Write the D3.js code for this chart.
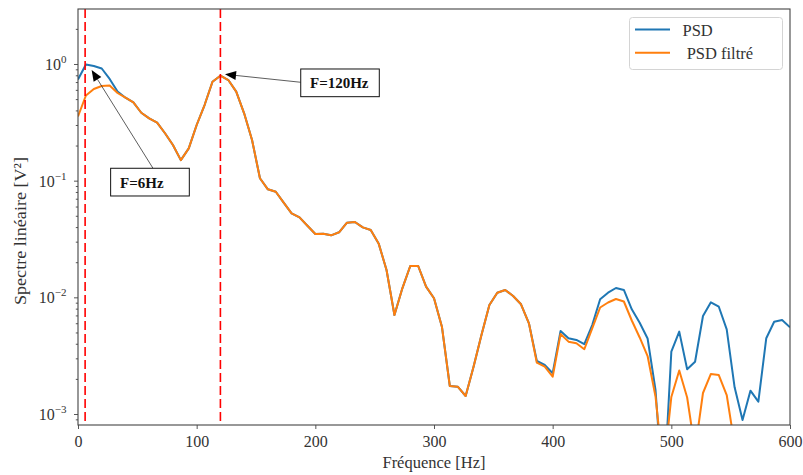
<!DOCTYPE html>
<html><head><meta charset="utf-8">
<script src="https://cdn.jsdelivr.net/npm/d3@7/dist/d3.min.js"></script>
<style>
body{margin:0;background:#fff}
text{font-family:"Liberation Serif","Times New Roman",serif;fill:#333}
</style>
</head><body>
<svg id="c" width="803" height="475"></svg>
<script>
// ---------- data ----------
const freqs = [0, 6.67, 13.33, 20, 26.67, 33.33, 40, 46.67, 53.33, 60, 66.67, 73.33, 80, 86.67, 93.33, 100,
  106.67, 113.33, 120, 126.67, 133.33, 140, 146.67, 153.33, 160, 166.67, 173.33, 180, 186.67, 193.33, 200,
  206.67, 213.33, 220, 226.67, 233.33, 240, 246.67, 253.33, 260, 266.67, 273.33, 280, 286.67, 293.33, 300,
  306.67, 313.33, 320, 326.67, 333.33, 340, 346.67, 353.33, 360, 366.67, 373.33, 380, 386.67, 393.33, 400,
  406.67, 413.33, 420, 426.67, 433.33, 440, 446.67, 453.33, 460, 466.67, 473.33, 480, 486.67, 493.33, 500,
  506.67, 513.33, 520, 526.67, 533.33, 540, 546.67, 553.33, 560, 566.67, 573.33, 580, 586.67, 593.33, 600];

const psd = [0.736, 0.990, 0.961, 0.915, 0.744, 0.581, 0.514, 0.469, 0.382, 0.342,
  0.314, 0.255, 0.202, 0.150, 0.189, 0.300, 0.445, 0.705, 0.794, 0.729,
  0.579, 0.378, 0.223, 0.1048, 0.0843, 0.0804, 0.0648, 0.0525, 0.0485, 0.0411,
  0.0349, 0.0351, 0.0340, 0.0361, 0.0436, 0.0442, 0.0398, 0.0378, 0.0290, 0.01716,
  0.00706, 0.01195, 0.01856, 0.01856, 0.01234, 0.00981, 0.00560, 0.001738, 0.001714, 0.001427,
  0.002544, 0.00475, 0.00860, 0.01096, 0.01156, 0.01027, 0.00872, 0.00599, 0.002847, 0.00263,
  0.002234, 0.00514, 0.00446, 0.00431, 0.00398, 0.00579, 0.00962, 0.01096, 0.01202, 0.01156,
  0.00790, 0.00606, 0.00444, 0.001606, 0.000183, 0.00342, 0.00508, 0.002416, 0.002807, 0.00692,
  0.00907, 0.00831, 0.00532, 0.001694, 0.000888, 0.001584, 0.001275, 0.00446, 0.00618, 0.00639,
  0.00554];

const psdFiltre = [0.355, 0.537, 0.611, 0.648, 0.654, 0.564, 0.514, 0.469, 0.382, 0.342,
  0.314, 0.255, 0.202, 0.150, 0.189, 0.300, 0.445, 0.705, 0.794, 0.729,
  0.579, 0.378, 0.223, 0.1048, 0.0843, 0.0804, 0.0648, 0.0525, 0.0485, 0.0411,
  0.0349, 0.0351, 0.0340, 0.0361, 0.0436, 0.0442, 0.0398, 0.0378, 0.0290, 0.01716,
  0.00706, 0.01195, 0.01856, 0.01856, 0.01234, 0.00981, 0.00560, 0.001738, 0.001714, 0.001427,
  0.002544, 0.00475, 0.00860, 0.01096, 0.01156, 0.01027, 0.00872, 0.00599, 0.002753, 0.002544,
  0.002088, 0.00485, 0.00417, 0.00404, 0.00359, 0.00543, 0.00818, 0.00903, 0.00968, 0.00921,
  0.00633, 0.00453, 0.00314, 0.001413, 0.000318, 0.001399, 0.00236, 0.001385, 0.000491, 0.001514,
  0.002203, 0.002159, 0.001455, 0.000543, 0.00030, 0.00040, 0.00025, 0.00035, 0.00030, 0.00020,
  0.00028];

const seriesNames = ["PSD", " PSD filtré"];
const seriesColors = ["#1f77b4", "#ff7f0e"];
const xTicks = [0, 100, 200, 300, 400, 500, 600];
const yTicksMajor = [1e-3, 1e-2, 1e-1, 1];
const yTickExp = ["\u22123", "\u22122", "\u22121", "0"];
const xLimits = [0, 600];
const yLimits = [0.000805, 2.96];
const markerFreqs = [6, 120];
// annotations in data coordinates
const annotations = [
  {label: "F=6Hz",   tip: [11.5, 0.888], tail: [63.2, 0.1277], box: [27.5, 0.1277, 93.8, 0.0739], text: [35.4, 0.0871]},
  {label: "F=120Hz", tip: [123.9, 0.816], tail: [187.7, 0.697], box: [187.7, 0.906, 253.9, 0.5245], text: [195.5, 0.619]}
];

// ---------- chart ----------
const svg = d3.select("#c");
const P = {l: 78, r: 790, t: 9, b: 425};
const x = d3.scaleLinear().domain(xLimits).range([P.l, P.r]);
const y = d3.scaleLog().domain(yLimits).range([P.b, P.t]);

svg.append("defs").append("clipPath").attr("id", "clip")
  .append("rect").attr("x", P.l).attr("y", P.t).attr("width", P.r - P.l).attr("height", P.b - P.t);

// minor y ticks
const minor = [];
for (let e = -4; e <= 0; e++) for (let m = 2; m <= 9; m++) {
  const v = m * Math.pow(10, e);
  if (v >= yLimits[0] && v <= yLimits[1]) minor.push(v);
}
const gyMinor = svg.append("g").attr("transform", `translate(${P.l},0)`)
  .call(d3.axisLeft(y).tickValues(minor).tickSize(2.2).tickFormat(""));
const gyMajor = svg.append("g").attr("transform", `translate(${P.l},0)`)
  .call(d3.axisLeft(y).tickValues(yTicksMajor).tickSize(4).tickFormat(""));
[gyMinor, gyMajor].forEach(g => { g.select(".domain").remove(); g.selectAll("line").attr("stroke", "#444").attr("stroke-width", 0.9); });

const ylab = svg.append("g");
yTicksMajor.forEach((v, i) => {
  const t = ylab.append("text").attr("x", 66.5).attr("y", y(v) + 6).attr("text-anchor", "end").attr("font-size", 16);
  t.append("tspan").text("10");
  t.append("tspan").attr("dy", -7).attr("font-size", 11).text(yTickExp[i]);
});

const gx = svg.append("g").attr("transform", `translate(0,${P.b})`)
  .call(d3.axisBottom(x).tickValues(xTicks).tickSize(4).tickPadding(4).tickFormat(d => d));
gx.select(".domain").remove();
gx.selectAll("line").attr("stroke", "#444").attr("stroke-width", 0.9);
gx.selectAll("text").attr("font-size", 16).attr("font-family", "Liberation Serif, serif").attr("fill", "#333")
  .attr("dy", null).attr("y", 22);

// data lines
const line = d3.line().x(d => x(d[0])).y(d => y(d[1]));
const plot = svg.append("g").attr("clip-path", "url(#clip)");
[psd, psdFiltre].forEach((s, i) => {
  plot.append("path").datum(freqs.map((f, j) => [f, s[j]]))
    .attr("d", line).attr("fill", "none").attr("stroke", seriesColors[i])
    .attr("stroke-width", 2).attr("stroke-linejoin", "round");
});

// red dashed markers
markerFreqs.forEach(f => {
  plot.append("line").attr("x1", x(f)).attr("x2", x(f)).attr("y1", P.t).attr("y2", P.b)
    .attr("stroke", "#ff0000").attr("stroke-width", 1.6).attr("stroke-dasharray", "9,4");
});

// frame
svg.append("rect").attr("x", P.l).attr("y", P.t).attr("width", P.r - P.l).attr("height", P.b - P.t)
  .attr("fill", "none").attr("stroke", "#444").attr("stroke-width", 1.1);

// axis labels
svg.append("text").attr("x", (P.l + P.r) / 2).attr("y", 468).attr("text-anchor", "middle")
  .attr("font-size", 16.5).text("Fréquence [Hz]");
svg.append("text").attr("transform", `translate(26,231) rotate(-90)`)
  .attr("text-anchor", "middle").attr("font-size", 17).attr("textLength", 148).attr("lengthAdjust", "spacingAndGlyphs")
  .text("Spectre linéaire [V²]");

// annotations
const ann = svg.append("g");
annotations.forEach(a => {
  const tx = x(a.tip[0]), ty = y(a.tip[1]), sx = x(a.tail[0]), sy = y(a.tail[1]);
  const ang = Math.atan2(ty - sy, tx - sx);
  const hl = 11, hw = 4.5;
  const bx = tx - hl * Math.cos(ang), by = ty - hl * Math.sin(ang);
  ann.append("line").attr("x1", sx).attr("y1", sy).attr("x2", bx).attr("y2", by)
    .attr("stroke", "#333").attr("stroke-width", 0.8);
  const px = -Math.sin(ang), py = Math.cos(ang);
  ann.append("path").attr("d", `M${tx},${ty}L${bx + px * hw},${by + py * hw}L${bx - px * hw},${by - py * hw}Z`)
    .attr("fill", "#000");
  const x0 = x(a.box[0]), x1 = x(a.box[2]), y0 = y(a.box[1]), y1 = y(a.box[3]);
  ann.append("rect").attr("x", x0).attr("y", y0).attr("width", x1 - x0).attr("height", y1 - y0)
    .attr("fill", "#fff").attr("stroke", "#111").attr("stroke-width", 1);
  ann.append("text").attr("x", x(a.text[0])).attr("y", y(a.text[1])).attr("font-size", 15)
    .attr("font-weight", "bold").style("fill", "#111").text(a.label);
});

// legend
const lg = svg.append("g");
lg.append("rect").attr("x", 629.5).attr("y", 17.5).attr("width", 153).attr("height", 52).attr("rx", 3)
  .attr("fill", "#fff").attr("fill-opacity", 0.85).attr("stroke", "#d4d4d4").attr("stroke-width", 1);
seriesNames.forEach((n, i) => {
  const yy = 29.5 + i * 23.2;
  lg.append("line").attr("x1", 635).attr("x2", 670).attr("y1", yy).attr("y2", yy)
    .attr("stroke", seriesColors[i]).attr("stroke-width", 2);
  lg.append("text").attr("x", 682.5).attr("y", yy + 6).attr("font-size", 16.5)
    .attr("xml:space", "preserve").style("white-space", "pre").text(n);
});
</script>
</body></html>
